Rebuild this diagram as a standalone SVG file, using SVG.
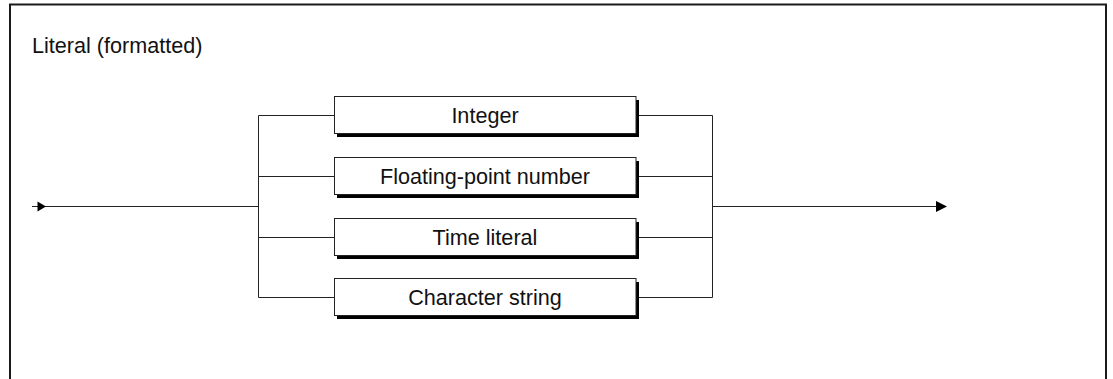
<svg xmlns="http://www.w3.org/2000/svg" width="1113" height="379" viewBox="0 0 1113 379">
  <style>
    .frame { fill: none; stroke: #1a1a1a; stroke-width: 2; }
    .title { font-family: "Liberation Sans", Arial, sans-serif; font-size: 21.6px; fill: #111; }
    .box { fill: #fff; stroke: #222; stroke-width: 1; }
    .shadow { fill: #000; }
    .label { font-family: "Liberation Sans", Arial, sans-serif; font-size: 21.6px; fill: #111; text-anchor: middle; }
    .conn { fill: none; stroke: #222; stroke-width: 1; }
    .head { fill: #000; }
  </style>
  <rect x="0" y="0" width="1113" height="379" fill="#fff"/>
  <path class="frame" d="M10,381 V4.5 H1106 V381"/>
  <text class="title" x="32" y="53">Literal (formatted)</text>

  <g id="connectors">
    <path class="conn" d="M32,206.5 H258.5"/>
    <polygon class="head" points="37.5,201.5 46,206.5 37.5,211.5"/>
    <path class="conn" d="M258.5,115.5 V297.5"/>
    <path class="conn" d="M258.5,115.5 H334"/>
    <path class="conn" d="M258.5,176.5 H334"/>
    <path class="conn" d="M258.5,237.5 H334"/>
    <path class="conn" d="M258.5,297.5 H334"/>
    <path class="conn" d="M639,115.5 H712.5"/>
    <path class="conn" d="M639,176.5 H712.5"/>
    <path class="conn" d="M639,237.5 H712.5"/>
    <path class="conn" d="M639,297.5 H712.5"/>
    <path class="conn" d="M712.5,115.5 V297.5"/>
    <path class="conn" d="M712.5,206.5 H938"/>
    <polygon class="head" points="936,201 947,206.5 936,212"/>
  </g>

  <g id="node-integer">
    <rect class="shadow" x="337" y="100" width="302" height="37"/>
    <rect class="box" x="334.5" y="96.5" width="301.5" height="37"/>
    <text class="label" x="485" y="122.7">Integer</text>
  </g>
  <g id="node-float">
    <rect class="shadow" x="337" y="161" width="302" height="37"/>
    <rect class="box" x="334.5" y="157.5" width="301.5" height="37"/>
    <text class="label" x="485" y="183.7">Floating-point number</text>
  </g>
  <g id="node-time">
    <rect class="shadow" x="337" y="222" width="302" height="37"/>
    <rect class="box" x="334.5" y="218.5" width="301.5" height="37"/>
    <text class="label" x="485" y="244.7">Time literal</text>
  </g>
  <g id="node-char">
    <rect class="shadow" x="337" y="282" width="302" height="37"/>
    <rect class="box" x="334.5" y="278.5" width="301.5" height="37"/>
    <text class="label" x="485" y="304.7">Character string</text>
  </g>
</svg>
